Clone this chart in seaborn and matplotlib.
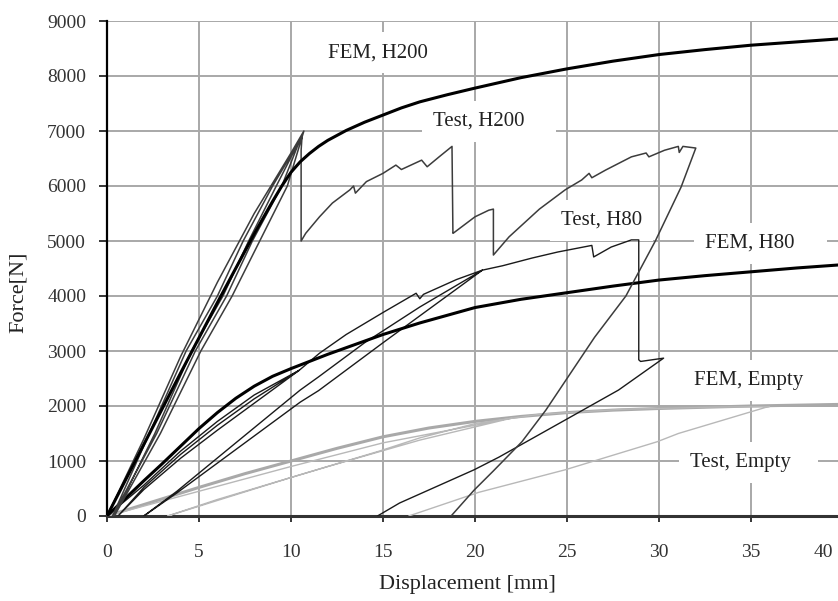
import matplotlib
matplotlib.use("Agg")
import matplotlib.pyplot as plt
import seaborn as sns
from matplotlib.transforms import ScaledTranslation

# FEM, H200 (thick black)
fem_h200_x = [0, 2, 4, 6, 8, 9, 9.5, 10, 10.5, 11, 11.5, 12, 13, 14, 15, 16, 17, 18.5, 20,
              22.5, 25, 27.5, 30, 32.5, 35, 37.5, 40]
fem_h200_y = [0, 1300, 2600, 3880, 5130, 5720, 6000, 6250, 6440, 6590, 6720, 6830, 7010, 7160, 7290,
              7420, 7530, 7660, 7780, 7970, 8130, 8270, 8390, 8480, 8560, 8620, 8680]

# Test, H200 (thin dark grey, repeated load/unload cycles then test run)
test_h200_x = [0, 2, 4, 6, 8, 10, 10.7,
               9.8, 8.3, 6.8, 5.1, 2.9, 0.4,
               2.6, 4.6, 6.3, 7.7, 9.2, 10.5,
               9.5, 7.9, 6.5, 4.8, 2.7, 0.3,
               2.3, 4.3, 6.0, 7.4, 9.0, 10.6, 10.55, 10.55, 10.8, 11.55, 12.25, 13.2, 13.4, 13.5,
               14.1, 15.0, 15.7, 16.0, 17.1, 17.4, 18.05, 18.75, 18.8, 18.85, 20.0, 20.75, 21.0, 21.0,
               21.85, 23.5, 24.9, 25.8, 26.2, 26.35, 27.1, 28.5, 29.3, 29.45, 30.3, 31.05, 31.1, 31.3, 32.0,
               31.2, 29.8, 28.2, 26.5, 24.7, 23.85, 22.55, 21.0, 19.95, 18.7]
test_h200_y = [0, 1400, 2900, 4250, 5500, 6600, 7000,
               6000, 5000, 4000, 3000, 1500, 0,
               1500, 3000, 4000, 5000, 6000, 6850,
               6000, 5000, 4000, 3000, 1500, 0,
               1500, 3000, 4000, 5000, 6000, 6900, 6650, 5000, 5140, 5440, 5690, 5930, 6000, 5870,
               6080, 6230, 6380, 6300, 6470, 6350, 6530, 6720, 5140, 5150, 5440, 5560, 5580, 4745,
               5075, 5580, 5930, 6110, 6230, 6150, 6290, 6530, 6600, 6530, 6650, 6720, 6610, 6720, 6690,
               5980, 5000, 4000, 3250, 2350, 1925, 1350, 820, 470, 0]

# FEM, H80 (thick black)
fem_h80_x = [0, 1, 2, 3, 4, 5, 6, 7, 8, 9, 10, 11, 12, 13, 15, 17, 20, 22.5, 25, 27.5, 30, 32.5, 35, 37.5, 40]
fem_h80_y = [0, 320, 640, 950, 1270, 1590, 1880, 2140, 2360, 2540, 2680, 2810, 2940, 3060, 3300, 3510,
             3790, 3940, 4060, 4180, 4290, 4370, 4440, 4510, 4570]

# Test, H80 (thin black)
test_h80_x = [0, 2, 4, 6, 8, 10.45,
              8, 6, 4, 2, 0.6,
              2, 4, 6, 8, 10.45, 11.55, 13, 15, 16.8, 17, 17.2, 19, 20.4,
              15, 11.5, 10.5, 3.8, 2.0,
              3.8, 7, 10.5, 11.5, 14, 17, 20.4,
              21.5, 23.1, 24.5, 26.35, 26.45, 27.4, 28.5, 28.9, 28.9, 29.0, 30.25,
              27.8, 24.9, 21.3, 19.95, 15.9, 14.7]
test_h80_y = [0, 560, 1180, 1720, 2200, 2650,
              2050, 1560, 1050, 480, 0,
              520, 1120, 1650, 2130, 2650, 2960, 3300, 3700, 4050, 3950, 4030, 4300, 4470,
              3150, 2280, 2070, 420, 0,
              450, 1330, 2290, 2530, 3150, 3800, 4470,
              4550, 4690, 4800, 4920, 4710, 4890, 5020, 5020, 2840, 2810, 2870,
              2290, 1745, 1070, 840, 236, 0]

# FEM, Empty (thick grey)
fem_empty_x = [0, 2.5, 5, 7.5, 10, 12.5, 15, 17.5, 20, 22.5, 25, 27.5, 30, 35, 40]
fem_empty_y = [0, 260, 520, 770, 1000, 1230, 1440, 1600, 1720, 1810, 1880, 1925, 1955, 2000, 2030]

# Test, Empty (thin light grey)
test_empty_x = [0, 5, 10, 15, 20, 22, 17, 12, 6, 3.3, 9.9, 14.8, 17, 20, 23.5, 28, 33, 36,
                35.9, 31.05, 29.9, 24.9, 20.2, 16.4]
test_empty_y = [0, 450, 900, 1330, 1650, 1780, 1380, 900, 300, 0, 690, 1180, 1420, 1680, 1850, 1940, 1980, 1990,
                1985, 1500, 1350, 840, 430, 0]

# curve labels (left edge, vertical centre)
labels = ["FEM, H200", "Test, H200    ", "Test, H80", "FEM, H80    ", "FEM, Empty", "Test, Empty   "]
label_x = [12.0, 17.7, 24.65, 32.5, 31.9, 31.7]
label_y = [8420, 7180, 5380, 4960, 2470, 980]

sns.set_style("white")
plt.rcParams['font.family'] = ['Liberation Serif', 'DejaVu Serif']

fig = plt.figure(figsize=(8.38, 6.01), dpi=100)
ax = fig.add_axes([107 / 838, 1 - 516 / 601, (843 - 107) / 838, (516 - 21) / 601])


def draw(x, y, color, lw):
    sns.lineplot(x=x, y=y, sort=False, estimator=None, color=color,
                 linewidth=lw, ax=ax, zorder=3)


draw(fem_empty_x, fem_empty_y, '#a9a9a9', 2.2)
draw(test_empty_x, test_empty_y, '#b8b8b8', 1.0)
draw(test_h80_x, test_h80_y, '#1a1a1a', 1.0)
draw(fem_h80_x, fem_h80_y, '#000000', 2.2)
draw(test_h200_x, test_h200_y, '#3c3c3c', 1.1)
draw(fem_h200_x, fem_h200_y, '#000000', 2.2)

for txt, x, y in zip(labels, label_x, label_y):
    ax.text(x, y, txt, ha='left', va='center', fontsize=15, color='#222222', zorder=1.5,
            bbox=dict(facecolor='white', edgecolor='none', pad=8))

ax.set_xlim(0, 40)
ax.set_ylim(0, 9000)
ax.set_xticks(range(0, 45, 5))
ax.set_yticks(range(0, 10000, 1000))
ax.set_axisbelow(True)
ax.grid(True, color='#a8a8a8', linewidth=1.4)

for s in ['top', 'right']:
    ax.spines[s].set_visible(False)
ax.spines['left'].set_color('black')
ax.spines['left'].set_linewidth(1.6)
ax.spines['bottom'].set_color('#333333')
ax.spines['bottom'].set_linewidth(2.2)

ax.tick_params(axis='x', direction='out', length=4, width=1.3, pad=16, labelsize=14,
               labelcolor='#333333', bottom=True)
ax.tick_params(axis='y', direction='out', length=6, width=1.3, pad=9, labelsize=14,
               labelcolor='#333333', left=True)

ax.set_xlabel("Displacement [mm]", fontsize=16, color='#222222')
ax.set_ylabel("Force[N]", fontsize=16, color='#222222')
ax.xaxis.set_label_coords(0.49, -0.12)
ax.yaxis.set_label_coords(-0.107, 0.4525)

# last tick label sits at the cut edge of the picture
last = ax.get_xticklabels()[-1]
last.set_horizontalalignment('right')
last.set_transform(last.get_transform() + ScaledTranslation(-0.1, 0, fig.dpi_scale_trans))

fig.savefig("out.png", dpi=100)
